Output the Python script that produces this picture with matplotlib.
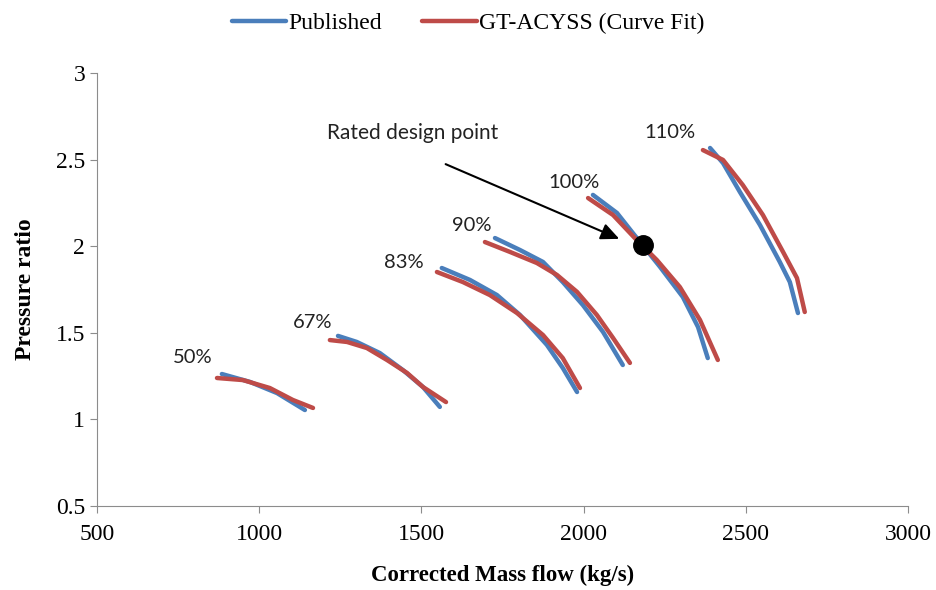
import matplotlib.pyplot as plt

# speed lines: corrected mass flow (kg/s) and pressure ratio
speeds = ["50%", "67%", "83%", "90%", "100%", "110%"]

pub_x = [
    [885, 972, 1055, 1141],
    [1243, 1301, 1372, 1443, 1505, 1557],
    [1563, 1650, 1733, 1804, 1887, 1936, 1980],
    [1727, 1804, 1875, 1936, 1998, 2060, 2121],
    [2029, 2103, 2152, 2236, 2306, 2353, 2383],
    [2390, 2430, 2482, 2544, 2605, 2636, 2661],
]
pub_y = [
    [1.262, 1.216, 1.152, 1.054],
    [1.482, 1.447, 1.383, 1.285, 1.187, 1.072],
    [1.874, 1.805, 1.718, 1.603, 1.430, 1.297, 1.158],
    [2.047, 1.978, 1.909, 1.793, 1.660, 1.505, 1.314],
    [2.296, 2.192, 2.076, 1.880, 1.707, 1.533, 1.354],
    [2.567, 2.480, 2.313, 2.122, 1.909, 1.793, 1.614],
]

fit_x = [
    [870, 950, 1033, 1104, 1166],
    [1218, 1271, 1332, 1394, 1456, 1505, 1576],
    [1548, 1628, 1711, 1795, 1875, 1936, 1989],
    [1696, 1773, 1856, 1918, 1980, 2041, 2091, 2143],
    [2014, 2091, 2158, 2226, 2297, 2359, 2414],
    [2368, 2430, 2491, 2553, 2615, 2658, 2682],
]
fit_y = [
    [1.239, 1.227, 1.181, 1.112, 1.066],
    [1.458, 1.447, 1.412, 1.343, 1.268, 1.187, 1.100],
    [1.851, 1.793, 1.718, 1.614, 1.487, 1.354, 1.181],
    [2.024, 1.967, 1.903, 1.834, 1.736, 1.603, 1.470, 1.326],
    [2.278, 2.180, 2.047, 1.920, 1.764, 1.574, 1.343],
    [2.555, 2.498, 2.353, 2.180, 1.967, 1.816, 1.620],
]

label_x = [796, 1166, 1446, 1656, 1970, 2266]
label_y = [1.355, 1.557, 1.903, 2.122, 2.365, 2.654]

design_x, design_y = 2183, 2.005

blue = '#4A7EBB'
red = '#BE4B48'
serif = 'Liberation Serif'

fig = plt.figure(figsize=(9.36, 5.9), dpi=100)
ax = fig.add_axes([0.1036, 0.1424, 0.8664, 0.7339])

for i in range(len(speeds)):
    ax.plot(pub_x[i], pub_y[i], color=blue, linewidth=3.2, solid_capstyle='round',
            solid_joinstyle='round', label='Published' if i == 0 else None, zorder=2)
    ax.plot(fit_x[i], fit_y[i], color=red, linewidth=3.2, solid_capstyle='round',
            solid_joinstyle='round',
            label='GT-ACYSS (Curve Fit)' if i == 0 else None, zorder=3)
    ax.text(label_x[i], label_y[i], speeds[i], fontsize=14.5, family='Lato',
            ha='center', va='center', color='#222222')

ax.plot(design_x, design_y, 'o', color='black', markersize=14, zorder=5)
ax.annotate('', xy=(2118, 2.036), xytext=(1567, 2.48),
            arrowprops=dict(arrowstyle='-|>,head_length=1.1,head_width=0.5',
                            color='black', lw=1.5))
ax.text(1474, 2.654, 'Rated design point', fontsize=15, family='Lato',
        ha='center', va='center', color='#222222')

ax.set_xlim(500, 3000)
ax.set_ylim(0.5, 3)
ax.set_xticks([500, 1000, 1500, 2000, 2500, 3000])
ax.set_yticks([0.5, 1, 1.5, 2, 2.5, 3])
ax.set_yticklabels(['0.5', '1', '1.5', '2', '2.5', '3'])
for s in ['top', 'right']:
    ax.spines[s].set_visible(False)
for s in ['left', 'bottom']:
    ax.spines[s].set_color('#8c8c8c')
ax.tick_params(colors='#8c8c8c', direction='out', length=5, labelcolor='black',
               labelsize=17)
for lab in ax.get_xticklabels() + ax.get_yticklabels():
    lab.set_family(serif)
ax.tick_params(axis='x', pad=8)

ax.set_xlabel('Corrected Mass flow (kg/s)', family=serif, fontsize=16.5,
              fontweight='bold', labelpad=14)
ax.set_ylabel('Pressure ratio', family=serif, fontsize=17, fontweight='bold',
              labelpad=14)

fig.legend(loc='upper center', bbox_to_anchor=(0.5, 1.015), ncol=2, frameon=False,
           prop={'family': serif, 'size': 17}, handlelength=2.3, columnspacing=1.7,
           handletextpad=0.1)

fig.savefig('out.png', dpi=100)
